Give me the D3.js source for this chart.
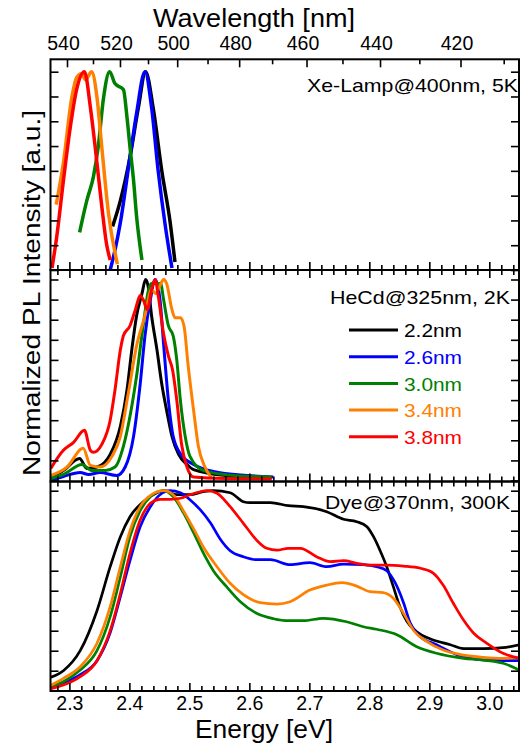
<!DOCTYPE html>
<html>
<head>
<meta charset="utf-8">
<script src="https://cdn.jsdelivr.net/npm/d3@7"></script>
<style>
  body { margin: 0; background: #fff; }
  svg text { font-family: Arial, "Liberation Sans", Helvetica, sans-serif; }
</style>
</head>
<body>
<svg width="520" height="746"></svg>
<script>
// the 5 samples
const sampleNames = ["2.2nm", "2.6nm", "3.0nm", "3.4nm", "3.8nm"];
const sampleColors = ["#000000", "#0000ff", "#008000", "#ff8000", "#ff0000"];

// wavelength ticks for the top axis (nm)
const nmMajor = [540, 520, 500, 480, 460, 440, 420];
const nmMinor = [530, 510, 490, 470, 450, 430, 410];
const eVLabels = [2.3, 2.4, 2.5, 2.6, 2.7, 2.8, 2.9, 3.0];

// Xe-Lamp@400nm, 5K  -- [energy eV, normalized PL]
const xeBlack = [[2.372,0.22],[2.385,0.35],[2.401,0.57],[2.415,0.82],[2.427,1.0],[2.440,0.81],[2.454,0.50],[2.468,0.24],[2.476,0.04]];
const xeBlue = [[2.368,0.0],[2.376,0.1],[2.385,0.24],[2.401,0.57],[2.412,0.79],[2.426,1.0],[2.437,0.82],[2.448,0.50],[2.460,0.22],[2.471,0.01]];
const xeGreen = [[2.317,0.19],[2.329,0.35],[2.340,0.47],[2.348,0.62],[2.357,0.87],[2.367,1.0],[2.376,0.94],[2.390,0.91],[2.396,0.77],[2.401,0.62],[2.407,0.45],[2.412,0.27],[2.421,0.05]];
const xeOrange = [[2.278,0.33],[2.290,0.54],[2.304,0.87],[2.312,0.97],[2.320,0.99],[2.327,0.96],[2.337,1.0],[2.346,0.87],[2.354,0.62],[2.365,0.29],[2.380,0.03]];
const xeRed = [[2.271,0.01],[2.279,0.17],[2.290,0.45],[2.301,0.71],[2.312,0.91],[2.325,1.0],[2.335,0.82],[2.343,0.62],[2.354,0.32],[2.362,0.13],[2.368,0.05]];

// HeCd@325nm, 2K
const hcBlack = [[2.269,0.017],[2.290,0.05],[2.317,0.11],[2.329,0.06],[2.346,0.067],[2.368,0.13],[2.385,0.27],[2.396,0.45],[2.404,0.65],[2.412,0.82],[2.421,0.93],[2.427,1.0],[2.431,0.97],[2.437,0.82],[2.446,0.65],[2.454,0.48],[2.462,0.35],[2.471,0.22],[2.482,0.13],[2.496,0.08],[2.507,0.054],[2.562,0.024],[2.637,0.012]];
const hcBlue = [[2.269,0.0],[2.290,0.02],[2.318,0.04],[2.332,0.03],[2.351,0.04],[2.379,0.025],[2.393,0.067],[2.407,0.22],[2.418,0.48],[2.426,0.72],[2.435,0.9],[2.443,1.0],[2.451,0.9],[2.457,0.68],[2.465,0.4],[2.473,0.22],[2.487,0.125],[2.507,0.08],[2.540,0.045],[2.596,0.025],[2.640,0.018]];
const hcGreen = [[2.269,0.01],[2.290,0.03],[2.321,0.08],[2.337,0.05],[2.360,0.05],[2.376,0.067],[2.390,0.17],[2.401,0.32],[2.412,0.52],[2.423,0.77],[2.432,0.95],[2.437,0.98],[2.445,0.98],[2.452,0.98],[2.457,0.9],[2.465,0.77],[2.473,0.72],[2.479,0.6],[2.485,0.4],[2.493,0.22],[2.501,0.12],[2.523,0.05],[2.562,0.028],[2.637,0.017]];
const hcOrange = [[2.269,0.025],[2.296,0.067],[2.323,0.16],[2.335,0.075],[2.351,0.067],[2.371,0.12],[2.385,0.22],[2.398,0.43],[2.412,0.67],[2.426,0.82],[2.437,0.95],[2.444,0.93],[2.451,0.97],[2.457,1.0],[2.462,0.98],[2.471,0.85],[2.476,0.81],[2.485,0.81],[2.491,0.77],[2.498,0.57],[2.507,0.35],[2.515,0.17],[2.526,0.067],[2.537,0.013]];
const hcRed = [[2.269,0.06],[2.290,0.15],[2.307,0.19],[2.325,0.25],[2.335,0.15],[2.340,0.14],[2.354,0.18],[2.368,0.30],[2.376,0.45],[2.385,0.65],[2.390,0.72],[2.401,0.77],[2.410,0.85],[2.418,0.92],[2.423,0.9],[2.430,0.85],[2.437,0.95],[2.443,1.0],[2.448,0.92],[2.457,0.73],[2.465,0.62],[2.472,0.55],[2.479,0.4],[2.487,0.18],[2.496,0.067],[2.507,0.017],[2.560,0.01],[2.637,0.008]];

// Dye@370nm, 300K
const dyBlack = [[2.269,0.067],[2.290,0.10],[2.318,0.2],[2.346,0.40],[2.368,0.62],[2.385,0.77],[2.401,0.87],[2.423,0.945],[2.446,0.99],[2.458,1.0],[2.479,0.98],[2.501,0.98],[2.523,0.995],[2.540,1.0],[2.568,0.99],[2.590,0.945],[2.601,0.94],[2.635,0.94],[2.665,0.925],[2.690,0.92],[2.729,0.895],[2.757,0.857],[2.779,0.845],[2.796,0.82],[2.807,0.77],[2.818,0.70],[2.829,0.62],[2.840,0.52],[2.851,0.42],[2.862,0.35],[2.879,0.295],[2.901,0.26],[2.935,0.23],[2.957,0.21],[2.990,0.21],[3.023,0.215],[3.050,0.23]];
const dyBlue = [[2.269,0.012],[2.290,0.037],[2.318,0.08],[2.346,0.15],[2.368,0.29],[2.385,0.47],[2.401,0.65],[2.418,0.82],[2.435,0.92],[2.451,0.98],[2.468,1.0],[2.485,0.99],[2.501,0.955],[2.518,0.905],[2.535,0.84],[2.551,0.76],[2.568,0.70],[2.590,0.67],[2.612,0.655],[2.635,0.655],[2.668,0.63],[2.701,0.64],[2.729,0.62],[2.757,0.633],[2.790,0.63],[2.812,0.62],[2.829,0.60],[2.843,0.54],[2.857,0.44],[2.868,0.34],[2.885,0.27],[2.912,0.23],[2.946,0.18],[2.979,0.157],[3.023,0.15],[3.050,0.15]];
const dyGreen = [[2.269,0.02],[2.290,0.045],[2.318,0.103],[2.346,0.2],[2.368,0.37],[2.385,0.57],[2.401,0.77],[2.418,0.9],[2.435,0.97],[2.457,1.0],[2.473,0.97],[2.490,0.89],[2.507,0.79],[2.523,0.69],[2.540,0.60],[2.562,0.52],[2.585,0.445],[2.612,0.387],[2.640,0.36],[2.665,0.35],[2.690,0.35],[2.723,0.362],[2.762,0.345],[2.790,0.32],[2.812,0.307],[2.846,0.28],[2.879,0.22],[2.912,0.187],[2.957,0.162],[2.990,0.153],[3.023,0.137],[3.050,0.103]];
const dyOrange = [[2.269,0.027],[2.290,0.062],[2.318,0.12],[2.346,0.237],[2.368,0.42],[2.385,0.62],[2.401,0.80],[2.418,0.92],[2.437,0.98],[2.457,1.0],[2.473,0.98],[2.490,0.9],[2.507,0.81],[2.523,0.72],[2.546,0.62],[2.568,0.537],[2.590,0.48],[2.618,0.44],[2.646,0.433],[2.668,0.445],[2.701,0.503],[2.729,0.528],[2.754,0.54],[2.779,0.523],[2.801,0.495],[2.823,0.49],[2.840,0.462],[2.857,0.387],[2.874,0.30],[2.896,0.245],[2.923,0.203],[2.957,0.178],[2.990,0.167],[3.023,0.162],[3.050,0.165]];
const dyRed = [[2.269,0.01],[2.290,0.028],[2.318,0.07],[2.346,0.15],[2.368,0.30],[2.385,0.487],[2.401,0.687],[2.418,0.853],[2.435,0.937],[2.451,0.957],[2.468,0.957],[2.485,0.962],[2.501,0.98],[2.518,0.995],[2.529,1.0],[2.546,0.987],[2.568,0.92],[2.590,0.837],[2.612,0.753],[2.629,0.712],[2.646,0.703],[2.665,0.712],[2.685,0.712],[2.712,0.67],[2.735,0.645],[2.757,0.65],[2.779,0.637],[2.801,0.628],[2.829,0.628],[2.857,0.623],[2.885,0.612],[2.907,0.587],[2.923,0.528],[2.940,0.437],[2.957,0.353],[2.974,0.287],[2.996,0.237],[3.023,0.187],[3.050,0.162]];

const svg = d3.select("svg");
const left = 50.5, right = 519;
const fontStack = 'Arial, "Liberation Sans", Helvetica, sans-serif';

// energy scale shared by all panels
const x = d3.scaleLinear().domain([2.2685, 3.0495]).range([left, right]);
// wavelength axis: E = 1239.84 / lambda, so a pow scale with exponent -1 lines up
const xNm = d3.scalePow().exponent(-1)
    .domain([1239.84 / 2.2685, 1239.84 / 3.0495]).range([left, right]);

const panels = [
    { top: 59.3, bottom: 270, y0: 270, y1: 71.7, ticks: d3.range(0, 9).map(k => k / 8), width: 3.5,
      series: [xeBlack, xeBlue, xeGreen, xeOrange, xeRed], label: "Xe-Lamp@400nm, 5K", lx: 518, ly: 91.7, lw: 211 },
    { top: 270, bottom: 481.5, y0: 480.5, y1: 279.5, ticks: d3.range(0, 11).map(k => k / 10), width: 3,
      series: [hcBlack, hcBlue, hcGreen, hcOrange, hcRed], label: "HeCd@325nm, 2K", lx: 510, ly: 304, lw: 180 },
    { top: 481.5, bottom: 691, y0: 690.7, y1: 490.7, ticks: d3.range(0, 11).map(k => k / 10), width: 2.7,
      series: [dyBlack, dyBlue, dyGreen, dyOrange, dyRed], label: "Dye@370nm, 300K", lx: 510, ly: 509.3, lw: 185 }
];

const minorE = d3.range(114, 153).map(k => k / 50).filter(v => Math.round(v * 50) % 5 !== 0);

function styleAxis(g) {
    g.select(".domain").remove();
    g.attr("font-family", fontStack);
    g.selectAll(".tick line").attr("stroke", "#000").attr("stroke-width", 1.6);
    g.selectAll(".tick text").attr("fill", "#000").style("font-size", "19.5px")
        .style("font-family", fontStack);
}

panels.forEach((p, i) => {
    const y = d3.scaleLinear().domain([0, 1]).range([p.y0, p.y1]);
    const g = svg.append("g");

    g.append("clipPath").attr("id", "clip" + i)
        .append("rect").attr("x", left).attr("y", p.top)
        .attr("width", right - left).attr("height", p.bottom - p.top);

    const line = d3.line().x(d => x(d[0])).y(d => y(d[1])).curve(d3.curveMonotoneX);
    g.append("g").attr("clip-path", `url(#clip${i})`)
        .selectAll("path").data(p.series).join("path")
        .attr("d", line)
        .attr("fill", "none")
        .attr("stroke", (d, j) => sampleColors[j])
        .attr("stroke-width", p.width)
        .attr("stroke-linejoin", "round");

    // bottom ticks (inward), labels only on the last panel
    const isLast = i === panels.length - 1;
    g.append("g").attr("transform", `translate(0,${p.bottom})`)
        .call(d3.axisBottom(x).tickValues(eVLabels).tickSize(-8).tickPadding(5.5)
            .tickFormat(isLast ? d3.format(".1f") : ""))
        .call(styleAxis);
    g.append("g").attr("transform", `translate(0,${p.bottom})`)
        .call(d3.axisBottom(x).tickValues(minorE).tickSize(-5).tickFormat(""))
        .call(styleAxis);

    // top ticks
    if (i === 0) {
        g.append("g").attr("transform", `translate(0,${p.top})`)
            .call(d3.axisTop(xNm).tickValues(nmMajor).tickSize(-8).tickPadding(9.3).tickFormat(d3.format("d")))
            .call(styleAxis)
            .selectAll(".tick text").attr("dx", -4);
        g.append("g").attr("transform", `translate(0,${p.top})`)
            .call(d3.axisTop(xNm).tickValues(nmMinor).tickSize(-5).tickFormat(""))
            .call(styleAxis);
    } else {
        g.append("g").attr("transform", `translate(0,${p.top})`)
            .call(d3.axisTop(x).tickValues(eVLabels).tickSize(-8).tickFormat(""))
            .call(styleAxis);
        g.append("g").attr("transform", `translate(0,${p.top})`)
            .call(d3.axisTop(x).tickValues(minorE).tickSize(-5).tickFormat(""))
            .call(styleAxis);
    }

    // left and right ticks
    g.append("g").attr("transform", `translate(${left},0)`)
        .call(d3.axisLeft(y).tickValues(p.ticks).tickSize(-8).tickFormat(""))
        .call(styleAxis);
    g.append("g").attr("transform", `translate(${right},0)`)
        .call(d3.axisRight(y).tickValues(p.ticks).tickSize(-8).tickFormat(""))
        .call(styleAxis);

    // frame
    g.append("rect").attr("x", left).attr("y", p.top)
        .attr("width", right - left).attr("height", p.bottom - p.top)
        .attr("fill", "none").attr("stroke", "#000").attr("stroke-width", 2);

    g.append("text").attr("x", p.lx).attr("y", p.ly)
        .attr("text-anchor", "end").style("font-size", "19px")
        .attr("textLength", p.lw).attr("lengthAdjust", "spacingAndGlyphs")
        .text(p.label);
});

// legend in the middle panel
const legend = svg.append("g");
sampleNames.forEach((name, j) => {
    const ly = 330 + j * 26.7;
    legend.append("line").attr("x1", 349).attr("x2", 398).attr("y1", ly).attr("y2", ly)
        .attr("stroke", sampleColors[j]).attr("stroke-width", 3);
    legend.append("text").attr("x", 404).attr("y", ly + 7.3)
        .attr("fill", sampleColors[j]).style("font-size", "19px")
        .attr("textLength", 58).attr("lengthAdjust", "spacingAndGlyphs")
        .text(name);
});

// axis titles
svg.append("text").attr("x", 254).attr("y", 26.5).attr("text-anchor", "middle")
    .style("font-size", "25px").attr("textLength", 202).attr("lengthAdjust", "spacingAndGlyphs")
    .text("Wavelength [nm]");
svg.append("text").attr("x", 264).attr("y", 737.5).attr("text-anchor", "middle")
    .style("font-size", "25px").attr("textLength", 138).attr("lengthAdjust", "spacingAndGlyphs")
    .text("Energy [eV]");
svg.append("text").attr("transform", "translate(40,293) rotate(-90)").attr("text-anchor", "middle")
    .style("font-size", "23px").attr("textLength", 366).attr("lengthAdjust", "spacingAndGlyphs")
    .text("Normalized PL Intensity [a.u.]");
</script>
</body>
</html>
